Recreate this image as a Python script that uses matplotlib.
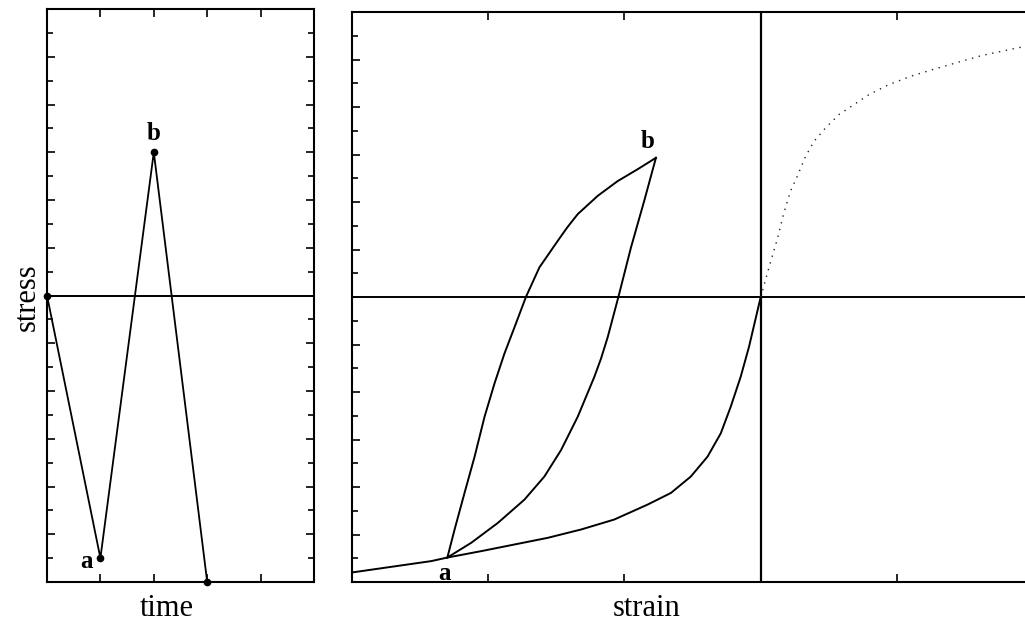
import matplotlib
matplotlib.use("Agg")
import matplotlib.pyplot as plt
from matplotlib.ticker import MultipleLocator, NullLocator

plt.rcParams['font.family'] = ['Liberation Serif', 'DejaVu Serif']

# stress history against time (left panel)
t_hist = [0, 1, 2, 3]
s_hist = [0, -11, 6, -12]

# monotonic compression curve (through a to the origin)
comp_eps = [-2.99, -2.418, -2.300, -2.051, -1.807, -1.563, -1.319, -1.075, -0.830,
            -0.659, -0.513, -0.390, -0.293, -0.220, -0.147, -0.086, 0.0]
comp_sig = [-11.59, -11.12, -10.97, -10.70, -10.42, -10.14, -9.79, -9.37, -8.74,
            -8.25, -7.56, -6.72, -5.74, -4.62, -3.36, -2.10, 0.0]

# monotonic tension curve (dotted)
ten_eps = [0.0, 0.061, 0.122, 0.171, 0.220, 0.269, 0.330, 0.392, 0.476, 0.574,
           0.684, 0.794, 0.940, 1.099, 1.258, 1.453, 1.624, 1.819, 1.941]
ten_sig = [0.0, 1.25, 2.44, 3.56, 4.47, 5.09, 5.93, 6.56, 7.12, 7.68,
           8.10, 8.52, 8.94, 9.29, 9.57, 9.89, 10.17, 10.41, 10.55]

# reloading a -> b
up_eps = [-2.300, -2.247, -2.174, -2.100, -2.027, -1.954, -1.881, -1.807, -1.722,
          -1.624, -1.489, -1.420, -1.343, -1.196, -1.050, -0.903, -0.769]
up_sig = [-10.97, -9.79, -8.25, -6.72, -5.04, -3.64, -2.38, -1.27, 0.02,
          1.25, 2.37, 2.93, 3.49, 4.26, 4.88, 5.38, 5.86]

# unloading b -> a
dn_eps = [-0.769, -0.855, -0.952, -1.042, -1.123, -1.172, -1.221, -1.343, -1.465,
          -1.588, -1.734, -1.929, -2.125, -2.300]
dn_sig = [5.86, 4.05, 2.09, 0.06, -1.69, -2.59, -3.36, -5.04, -6.44,
          -7.56, -8.53, -9.51, -10.35, -10.97]

fig = plt.figure(figsize=(10.25, 6.32), dpi=100)

ax1 = fig.add_axes([47/1025, 1-582/632, 267/1025, 573/632])
ax2 = fig.add_axes([352/1025, 1-582/632, 673/1025, 570/632])

for ax in (ax1, ax2):
    for sp in ax.spines.values():
        sp.set_linewidth(1.5)
    ax.set_ylim(-12, 12)
    ax.yaxis.set_major_locator(MultipleLocator(2))
    ax.yaxis.set_minor_locator(MultipleLocator(1))
    ax.tick_params(which='both', direction='in', top=True, right=True,
                   labelbottom=False, labelleft=False, width=1.2)
    ax.tick_params(which='major', length=6)
    ax.tick_params(which='minor', length=4)
    ax.xaxis.set_major_locator(MultipleLocator(1))
    ax.xaxis.set_minor_locator(NullLocator())

# left panel
ax1.set_xlim(0, 5)
ax1.axhline(0, color='black', lw=1.4)
ax1.plot(t_hist, s_hist, color='black', lw=1.3, marker='o', ms=4.5, clip_on=False)
ax1.text(t_hist[1] - 0.15, s_hist[1] - 0.15, 'a', ha='right', va='center', fontsize=18, fontweight='bold')
ax1.text(t_hist[2], s_hist[2] + 0.3, 'b', ha='center', va='bottom', fontsize=18, fontweight='bold')

# right panel
ax2.set_xlim(-3, 1.94)
ax2.spines['right'].set_visible(False)
ax2.tick_params(which='both', right=False)
ax2.axhline(0, color='black', lw=1.4)
ax2.axvline(0, color='black', lw=1.6)
ax2.plot(comp_eps, comp_sig, color='black', lw=1.4)
ax2.plot(ten_eps, ten_sig, color='#222222', lw=1.0, linestyle=(0, (1, 4)))
ax2.plot(up_eps, up_sig, color='black', lw=1.4)
ax2.plot(dn_eps, dn_sig, color='black', lw=1.4)
ax2.text(up_eps[0] - 0.02, up_sig[0] - 0.2, 'a', ha='center', va='top', fontsize=18, fontweight='bold')
ax2.text(up_eps[-1] - 0.06, up_sig[-1] + 0.2, 'b', ha='center', va='bottom', fontsize=18, fontweight='bold')

fig.text(27/1025, 1-297/632, 'stress', rotation=90, ha='center', va='center', fontsize=22)
fig.text(167/1025, 1-608/632, 'time', ha='center', va='center', fontsize=22)
fig.text(647/1025, 1-608/632, 'strain', ha='center', va='center', fontsize=22)

fig.savefig('out.png', dpi=100)
